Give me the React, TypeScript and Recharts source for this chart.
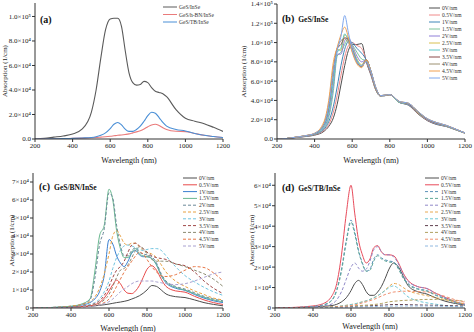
import React from 'react';
import { LineChart, Line, XAxis, YAxis, Legend, Label } from 'recharts';

const FONT = '"Liberation Serif", "Times New Roman", Times, serif';

// ---------- shared ----------
const xTicks = [200, 400, 600, 800, 1000, 1200];
const fieldNames = ['0V/nm', '0.5V/nm', '1V/nm', '1.5V/nm', '2V/nm', '2.5V/nm', '3V/nm', '3.5V/nm', '4V/nm', '4.5V/nm', '5V/nm'];

// ---------- panel (a) : absorption in units of 10^4 1/cm ----------
const waveA = [200, 250, 300, 350, 400, 450, 500, 525, 550, 575, 600, 620, 640, 660, 680, 700, 720, 740, 760, 780, 800, 820, 840, 860, 880, 900, 950, 1000, 1050, 1100, 1150, 1200];
const namesA = ['GeS/InSe', 'GeS/h-BN/InSe', 'GeS/TB/InSe'];
const aGeSInSe = [0, 0.05, 0.15, 0.25, 0.4, 0.8, 2.2, 4.0, 6.6, 8.9, 9.8, 9.85, 9.85, 9.2, 7.2, 5.4, 4.6, 4.4, 4.45, 4.7, 4.6, 4.2, 3.9, 3.8, 3.7, 3.45, 2.4, 1.7, 1.45, 1.25, 0.95, 0.62];
const aHBN = [0, 0, 0.02, 0.03, 0.05, 0.07, 0.1, 0.12, 0.15, 0.18, 0.22, 0.26, 0.3, 0.33, 0.37, 0.42, 0.5, 0.58, 0.68, 0.82, 1.0, 1.15, 1.2, 1.1, 0.92, 0.78, 0.63, 0.6, 0.45, 0.3, 0.2, 0.12];
const aTB = [0, 0, 0.02, 0.03, 0.05, 0.08, 0.12, 0.18, 0.3, 0.5, 0.85, 1.2, 1.35, 1.15, 0.8, 0.62, 0.62, 0.78, 1.05, 1.45, 1.9, 2.18, 2.1, 1.75, 1.35, 1.05, 0.78, 0.66, 0.45, 0.3, 0.2, 0.12];

// ---------- panel (b) GeS/InSe ----------
const waveB = [200, 250, 300, 350, 400, 450, 475, 500, 520, 540, 560, 580, 600, 625, 650, 675, 700, 725, 750, 775, 800, 850, 900, 950, 1000, 1050, 1100, 1150, 1200];
const b0 = [0, 0.05, 0.15, 0.25, 0.4, 0.8, 1.3, 2.2, 3.6, 5.6, 7.6, 9.2, 9.8, 9.8, 9.9, 8.0, 6.6, 5.1, 4.45, 4.5, 4.6, 3.8, 3.5, 2.6, 1.9, 1.5, 1.3, 0.95, 0.6];
const b05 = [0, 0.05, 0.15, 0.27, 0.45, 0.9, 1.5, 2.8, 4.5, 6.6, 8.5, 9.7, 10.0, 9.7, 9.4, 8.1, 6.7, 5.1, 4.5, 4.5, 4.6, 3.8, 3.55, 2.65, 1.95, 1.55, 1.3, 0.97, 0.6];
const b1 = [0, 0.05, 0.16, 0.28, 0.48, 1.0, 1.8, 3.4, 5.4, 7.6, 9.3, 10.1, 10.0, 9.4, 8.9, 8.2, 6.8, 5.2, 4.5, 4.5, 4.6, 3.8, 3.55, 2.7, 2.0, 1.55, 1.32, 0.98, 0.61];
const b15 = [0, 0.05, 0.17, 0.3, 0.5, 1.1, 2.2, 5.0, 8.6, 9.0, 9.8, 10.4, 9.8, 9.0, 8.3, 8.1, 6.9, 5.2, 4.5, 4.5, 4.6, 3.8, 3.6, 2.7, 2.0, 1.6, 1.33, 0.98, 0.61];
const b2 = [0, 0.05, 0.17, 0.3, 0.52, 1.2, 2.5, 5.6, 8.8, 8.8, 10.2, 10.5, 9.7, 8.6, 8.0, 8.2, 6.9, 5.3, 4.5, 4.5, 4.6, 3.85, 3.6, 2.75, 2.0, 1.6, 1.35, 1.0, 0.62];
const b25 = [0, 0.05, 0.18, 0.32, 0.55, 1.4, 3.0, 6.5, 9.3, 9.2, 10.8, 10.4, 9.5, 8.3, 7.7, 8.2, 7.0, 5.3, 4.5, 4.5, 4.6, 3.85, 3.65, 2.75, 2.05, 1.65, 1.38, 1.0, 0.62];
const b3 = [0, 0.05, 0.18, 0.32, 0.55, 1.3, 2.8, 6.0, 9.0, 9.4, 10.9, 10.2, 9.4, 8.2, 7.6, 8.2, 7.0, 5.3, 4.5, 4.55, 4.6, 3.85, 3.65, 2.8, 2.05, 1.65, 1.38, 1.0, 0.62];
const b35 = [0, 0.05, 0.18, 0.33, 0.57, 1.5, 3.3, 7.0, 9.4, 9.8, 10.5, 10.3, 9.3, 8.0, 7.5, 8.2, 7.0, 5.3, 4.5, 4.55, 4.6, 3.9, 3.65, 2.8, 2.05, 1.65, 1.4, 1.02, 0.63];
const b4 = [0, 0.05, 0.19, 0.34, 0.58, 1.6, 3.6, 7.4, 9.3, 10.2, 10.4, 10.0, 9.1, 7.9, 7.5, 8.2, 7.0, 5.3, 4.5, 4.55, 4.6, 3.9, 3.7, 2.85, 2.1, 1.7, 1.4, 1.02, 0.63];
const b45 = [0, 0.05, 0.2, 0.35, 0.6, 1.8, 4.0, 8.0, 9.5, 10.8, 11.6, 10.5, 9.0, 7.8, 7.4, 8.2, 7.0, 5.4, 4.5, 4.55, 4.6, 3.9, 3.7, 2.85, 2.1, 1.7, 1.42, 1.03, 0.63];
const b5 = [0, 0.05, 0.19, 0.34, 0.58, 1.5, 3.4, 7.0, 9.2, 10.6, 12.8, 11.0, 9.3, 8.0, 7.6, 8.0, 7.0, 5.4, 4.5, 4.55, 4.6, 3.9, 3.7, 2.85, 2.1, 1.7, 1.42, 1.03, 0.63];

// ---------- panel (c) GeS/BN/InSe ----------
const waveCD = [200, 300, 400, 450, 500, 525, 550, 575, 600, 620, 640, 660, 680, 700, 720, 740, 760, 780, 800, 825, 850, 875, 900, 950, 1000, 1050, 1100, 1150, 1200];
const c0 = [0, 0.02, 0.05, 0.07, 0.1, 0.12, 0.15, 0.18, 0.22, 0.26, 0.3, 0.33, 0.37, 0.42, 0.5, 0.58, 0.68, 0.82, 1.0, 1.25, 1.2, 1.0, 0.78, 0.63, 0.58, 0.45, 0.3, 0.2, 0.12];
const c05 = [0, 0.02, 0.05, 0.08, 0.12, 0.18, 0.3, 0.55, 0.95, 1.3, 1.55, 1.35, 1.0, 0.82, 0.8, 0.95, 1.25, 1.7, 2.15, 2.35, 2.1, 1.6, 1.2, 0.95, 0.88, 0.65, 0.45, 0.3, 0.2];
const c1 = [0, 0.03, 0.08, 0.15, 0.3, 0.5, 0.9, 1.8, 3.8, 3.55, 2.9, 2.5, 2.3, 2.6, 3.05, 3.2, 2.95, 2.85, 2.85, 2.75, 2.4, 1.8, 1.4, 1.1, 0.98, 0.75, 0.55, 0.4, 0.3];
const c15 = [0, 0.03, 0.1, 0.2, 0.5, 2.0, 4.0, 4.6, 6.6, 6.0, 4.3, 3.3, 2.8, 2.8, 3.1, 3.3, 3.0, 2.9, 2.85, 2.75, 2.4, 1.8, 1.45, 1.15, 1.0, 0.8, 0.6, 0.45, 0.35];
const c2 = [0, 0.03, 0.1, 0.18, 0.45, 1.6, 3.5, 4.4, 6.4, 6.1, 4.6, 3.5, 2.9, 2.9, 3.2, 3.35, 3.1, 3.0, 2.95, 2.85, 2.5, 1.9, 1.5, 1.2, 1.05, 0.85, 0.65, 0.5, 0.4];
const c25 = [0, 0.03, 0.1, 0.18, 0.35, 0.6, 1.1, 1.9, 3.0, 4.0, 4.3, 4.0, 3.6, 3.5, 3.6, 3.6, 3.4, 3.2, 3.1, 3.0, 2.8, 2.4, 2.0, 1.5, 1.2, 0.95, 0.75, 0.55, 0.45];
const c3 = [0, 0.02, 0.06, 0.1, 0.2, 0.3, 0.5, 0.9, 1.5, 2.2, 2.8, 3.2, 3.45, 3.5, 3.45, 3.35, 3.25, 3.2, 3.25, 3.3, 3.3, 3.2, 2.9, 2.3, 1.8, 1.45, 1.15, 0.9, 0.7];
const c35 = [0, 0.02, 0.05, 0.09, 0.15, 0.25, 0.4, 0.7, 1.2, 1.7, 2.1, 2.3, 2.6, 3.1, 3.5, 3.6, 3.45, 3.3, 3.1, 2.9, 2.8, 2.75, 2.7, 2.45, 2.35, 2.0, 1.5, 1.1, 0.8];
const c4 = [0, 0.02, 0.04, 0.07, 0.12, 0.18, 0.28, 0.45, 0.75, 1.2, 1.7, 2.1, 2.2, 2.4, 2.8, 3.2, 3.4, 3.3, 3.0, 2.7, 2.6, 2.6, 2.6, 2.45, 2.3, 2.1, 1.9, 1.6, 1.2];
const c45 = [0, 0.02, 0.04, 0.06, 0.1, 0.14, 0.2, 0.3, 0.5, 0.8, 1.2, 1.6, 2.0, 2.3, 2.6, 2.9, 3.1, 3.0, 2.7, 2.3, 2.0, 1.8, 1.75, 1.85, 2.1, 2.3, 2.25, 1.95, 1.5];
const c5 = [0, 0.01, 0.03, 0.05, 0.08, 0.12, 0.17, 0.25, 0.35, 0.5, 0.7, 0.9, 1.05, 1.2, 1.35, 1.45, 1.5, 1.5, 1.5, 1.5, 1.45, 1.4, 1.35, 1.3, 1.35, 1.5, 1.7, 1.9, 2.0];

// ---------- panel (d) GeS/TB/InSe ----------
const d0 = [0, 0.02, 0.05, 0.08, 0.12, 0.18, 0.3, 0.5, 0.85, 1.2, 1.35, 1.15, 0.8, 0.62, 0.62, 0.78, 1.05, 1.45, 1.9, 2.2, 2.0, 1.55, 1.1, 0.8, 0.68, 0.48, 0.32, 0.22, 0.14];
const d05 = [0, 0.03, 0.1, 0.2, 0.6, 1.2, 2.6, 4.6, 6.0, 4.6, 3.3, 2.6, 2.2, 2.4, 2.95, 3.05, 2.75, 2.6, 2.6, 2.55, 2.2, 1.7, 1.35, 1.05, 0.95, 0.7, 0.5, 0.3, 0.18];
const d1 = [0, 0.02, 0.07, 0.14, 0.4, 0.9, 1.9, 3.3, 4.3, 3.7, 2.8, 2.2, 1.8, 1.9, 2.4, 2.6, 2.45, 2.35, 2.3, 2.25, 1.95, 1.5, 1.2, 0.95, 0.85, 0.62, 0.45, 0.28, 0.16];
const d15 = [0, 0.02, 0.07, 0.13, 0.38, 0.85, 1.8, 3.2, 4.2, 3.6, 2.75, 2.15, 1.8, 1.85, 2.3, 2.55, 2.4, 2.3, 2.25, 2.2, 1.9, 1.45, 1.15, 0.92, 0.82, 0.6, 0.43, 0.27, 0.15];
const d2 = [0, 0.02, 0.05, 0.1, 0.2, 0.4, 0.8, 1.4, 2.0, 2.2, 1.95, 1.8, 1.9, 2.3, 2.85, 3.0, 2.75, 2.6, 2.6, 2.5, 2.15, 1.65, 1.3, 1.05, 0.95, 0.7, 0.5, 0.3, 0.18];
const d25 = [0, 0.01, 0.02, 0.03, 0.05, 0.07, 0.1, 0.13, 0.17, 0.2, 0.25, 0.3, 0.35, 0.42, 0.5, 0.6, 0.72, 0.88, 1.05, 1.2, 1.15, 1.0, 0.85, 0.7, 0.6, 0.5, 0.4, 0.3, 0.2];
const d3 = [0, 0.01, 0.02, 0.03, 0.05, 0.07, 0.1, 0.13, 0.17, 0.2, 0.25, 0.3, 0.35, 0.42, 0.5, 0.6, 0.72, 0.85, 1.0, 1.08, 0.95, 0.75, 0.55, 0.35, 0.25, 0.18, 0.12, 0.08, 0.05];
const d35 = [0, 0.005, 0.01, 0.02, 0.03, 0.04, 0.05, 0.06, 0.07, 0.08, 0.09, 0.1, 0.1, 0.11, 0.12, 0.13, 0.14, 0.15, 0.16, 0.17, 0.17, 0.17, 0.16, 0.15, 0.14, 0.13, 0.12, 0.11, 0.1];
const d4 = [0, 0.01, 0.02, 0.03, 0.05, 0.06, 0.08, 0.09, 0.1, 0.11, 0.12, 0.13, 0.14, 0.15, 0.17, 0.19, 0.22, 0.26, 0.3, 0.33, 0.35, 0.37, 0.38, 0.4, 0.42, 0.42, 0.4, 0.37, 0.33];
const d45 = [0, 0.01, 0.02, 0.03, 0.04, 0.05, 0.07, 0.09, 0.12, 0.15, 0.2, 0.25, 0.3, 0.36, 0.42, 0.5, 0.58, 0.66, 0.72, 0.78, 0.8, 0.82, 0.82, 0.8, 0.78, 0.7, 0.55, 0.4, 0.28];
const d5 = [0, 0.005, 0.01, 0.015, 0.02, 0.025, 0.03, 0.035, 0.04, 0.045, 0.05, 0.055, 0.06, 0.065, 0.07, 0.075, 0.08, 0.085, 0.09, 0.095, 0.1, 0.1, 0.1, 0.1, 0.1, 0.09, 0.08, 0.07, 0.06];

// ---------- styling ----------
type Series = { name: string; values: number[]; color: string; dash?: boolean };

const seriesA: Series[] = [
  { name: namesA[0], values: aGeSInSe, color: '#5a5a5a' },
  { name: namesA[1], values: aHBN, color: '#ea7b7b' },
  { name: namesA[2], values: aTB, color: '#4a8fd6' },
];
const colorsB = ['#4d4d4d', '#f08a8a', '#3f86b8', '#7cc49a', '#8f7fd8', '#d8c050', '#5cc8c8', '#8b4a4a', '#9c9070', '#f0a050', '#7fa8ee'];
const valsB = [b0, b05, b1, b15, b2, b25, b3, b35, b4, b45, b5];
const seriesB: Series[] = valsB.map((v, i) => ({ name: fieldNames[i], values: v, color: colorsB[i] }));

const colorsC = ['#4d4d4d', '#e84a4a', '#3a7fd0', '#6ab890', '#6a8898', '#e8a040', '#70c4e0', '#a04848', '#8a8a70', '#e87848', '#a8a0d0'];
const valsC = [c0, c05, c1, c15, c2, c25, c3, c35, c4, c45, c5];
const seriesC: Series[] = valsC.map((v, i) => ({ name: fieldNames[i], values: v, color: colorsC[i], dash: i >= 4 }));

const colorsD = ['#4d4d4d', '#e84a5a', '#5a90b8', '#60a898', '#9088c8', '#e8a850', '#70c8d8', '#604050', '#b0a060', '#f09070', '#90b8e0'];
const valsD = [d0, d05, d1, d15, d2, d25, d3, d35, d4, d45, d5];
const seriesD: Series[] = valsD.map((v, i) => ({ name: fieldNames[i], values: v, color: colorsD[i], dash: i >= 2 }));

const fmtAB = (v: number) => (v === 0 ? '0.0' : v < 10 ? `${v.toFixed(1)}×10⁴` : `${(v / 10).toFixed(1)}×10⁵`);
const fmtCD = (v: number) => (v === 0 ? '0' : `${v}×10⁴`);

function buildRows(waves: number[], series: Series[]) {
  return waves.map((w, i) => {
    const r: any = { w };
    series.forEach((s, j) => {
      r['s' + j] = s.values[i];
    });
    return r;
  });
}

type PanelProps = {
  left: number; top: number; width: number; height: number;
  yw: number; mt: number; mr: number; xh: number;
  yMax: number; yTicks: number[]; fmt: (v: number) => string;
  waves: number[]; series: Series[]; sw: number;
  lgX: number; lgY: number; lgLen: number; lgSp: number; lgFont: number;
  tag: string; sub?: string; tagX: number; tagY: number;
  ylX: number; xlOff: number;
};

function Panel(p: PanelProps) {
  const rows = buildRows(p.waves, p.series);
  const tickStyle = { fontSize: 7, fill: '#222', fontFamily: FONT };
  const lgH = p.series.length * p.lgSp + 4;
  return (
    <div style={{ position: 'absolute', left: p.left, top: p.top, width: p.width, height: p.height }}>
      <LineChart width={p.width} height={p.height} data={rows} margin={{ top: p.mt, right: p.mr, left: 0, bottom: 0 }}>
        <XAxis dataKey="w" type="number" domain={[200, 1200]} ticks={xTicks} interval={0} allowDataOverflow
          height={p.xh} stroke="#333" tickSize={3} tickMargin={1} tick={tickStyle}>
          <Label value="Wavelength (nm)" position="insideBottom" offset={p.xlOff}
            style={{ fontSize: 8, fill: '#222', fontFamily: FONT }} />
        </XAxis>
        <XAxis xAxisId="top" orientation="top" dataKey="w" type="number" domain={[200, 1200]} allowDataOverflow
          height={0} tick={false} tickLine={false} stroke="#333" />
        <YAxis type="number" domain={[0, p.yMax]} ticks={p.yTicks} interval={0} allowDataOverflow width={p.yw}
          stroke="#333" tickSize={3} tickMargin={1} tickFormatter={p.fmt} tick={tickStyle}>
          <Label content={(lp: any) => {
            const vb = lp.viewBox || { y: 0, height: 0 };
            const cy = vb.y + vb.height / 2;
            return (
              <text x={p.ylX} y={cy} transform={`rotate(-90 ${p.ylX} ${cy})`} textAnchor="middle"
                dominantBaseline="central" style={{ fontSize: 7, fill: '#222', fontFamily: FONT }}>
                Absorption (1/cm)
              </text>
            );
          }} />
        </YAxis>
        <YAxis yAxisId="right" orientation="right" type="number" domain={[0, p.yMax]} allowDataOverflow width={0}
          tick={false} tickLine={false} stroke="#333" />
        {p.series.map((s, j) => (
          <Line key={j} dataKey={'s' + j} name={s.name} type="monotone" stroke={s.color} strokeWidth={p.sw}
            strokeDasharray={s.dash ? '3 2' : undefined} dot={false} activeDot={false} isAnimationActive={false} />
        ))}
        <Legend layout="vertical" align="center" verticalAlign="middle"
          wrapperStyle={{ left: p.lgX, top: p.lgY, right: 'auto', bottom: 'auto', width: 70, height: lgH }}
          content={() => (
            <svg width={70} height={lgH} style={{ display: 'block' }}>
              {p.series.map((s, j) => {
                const y = 3 + j * p.lgSp;
                return (
                  <g key={j}>
                    <line x1={0} x2={p.lgLen} y1={y} y2={y} stroke={s.color} strokeWidth={1}
                      strokeDasharray={s.dash ? '3 2' : undefined} />
                    <text x={p.lgLen + 2} y={y} dominantBaseline="central"
                      style={{ fontSize: p.lgFont, fill: '#333', fontFamily: FONT }}>{s.name}</text>
                  </g>
                );
              })}
            </svg>
          )} />
      </LineChart>
      <div style={{ position: 'absolute', left: p.tagX, top: p.tagY, fontFamily: FONT, fontWeight: 'bold', color: '#111', whiteSpace: 'nowrap', lineHeight: 1 }}>
        <span style={{ fontSize: 10 }}>{p.tag}</span>
        {p.sub ? <span style={{ fontSize: 7.5, marginLeft: 4 }}>{p.sub}</span> : null}
      </div>
    </div>
  );
}

export default function App() {
  return (
    <div style={{ position: 'absolute', left: 0, top: 0, width: 474, height: 332, background: '#fff', overflow: 'hidden' }}>
      <Panel left={0} top={0} width={237} height={166} yw={35} mt={3} mr={14} xh={27}
        yMax={11.1} yTicks={[0, 2, 4, 6, 8, 10]} fmt={fmtAB} waves={waveA} series={seriesA} sw={1.1}
        lgX={163} lgY={4} lgLen={14} lgSp={7.5} lgFont={5.5}
        tag="(a)" tagX={40} tagY={10} ylX={5} xlOff={3} />
      <Panel left={237} top={0} width={237} height={166} yw={40} mt={4} mr={9} xh={27}
        yMax={14} yTicks={[0, 2, 4, 6, 8, 10, 12, 14]} fmt={fmtAB} waves={waveB} series={seriesB} sw={1}
        lgX={192} lgY={5} lgLen={11} lgSp={7} lgFont={5.5}
        tag="(b)" sub="GeS/InSe" tagX={45} tagY={9} ylX={7} xlOff={3} />
      <Panel left={0} top={166} width={237} height={166} yw={33} mt={7} mr={14} xh={24}
        yMax={7.5} yTicks={[0, 1, 2, 3, 4, 5, 6, 7]} fmt={fmtCD} waves={waveCD} series={seriesC} sw={1}
        lgX={183} lgY={9} lgLen={14} lgSp={6.8} lgFont={5.5}
        tag="(c)" sub="GeS/BN/InSe" tagX={39} tagY={11} ylX={12} xlOff={1} />
      <Panel left={237} top={166} width={237} height={166} yw={38} mt={7} mr={9} xh={24}
        yMax={6.6} yTicks={[0, 1, 2, 3, 4, 5, 6]} fmt={fmtCD} waves={waveCD} series={seriesD} sw={1}
        lgX={188} lgY={9} lgLen={14} lgSp={6.8} lgFont={5.5}
        tag="(d)" sub="GeS/TB/InSe" tagX={45} tagY={12} ylX={15} xlOff={3} />
    </div>
  );
}
